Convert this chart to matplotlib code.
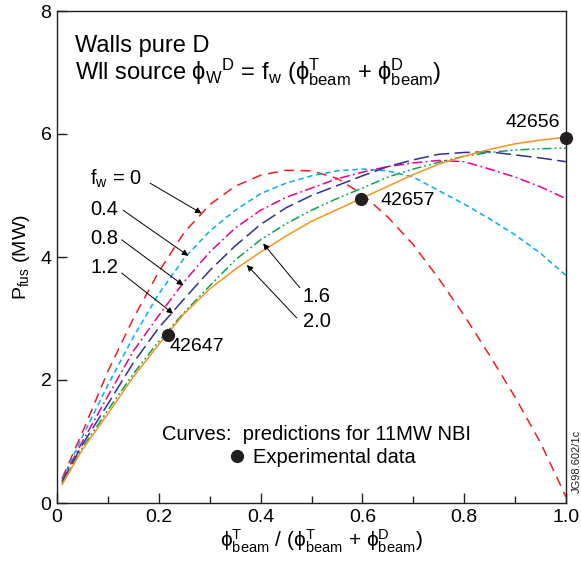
import matplotlib
matplotlib.use('Agg')
import matplotlib.pyplot as plt

plt.rcParams['font.family'] = ['Liberation Sans', 'DejaVu Sans']
plt.rcParams['mathtext.fontset'] = 'custom'
plt.rcParams['mathtext.rm'] = 'Liberation Sans'
plt.rcParams['mathtext.it'] = 'Liberation Sans:italic'
plt.rcParams['mathtext.sf'] = 'Liberation Sans'

# beam tritium fraction
frac = [0.01, 0.05, 0.10, 0.15, 0.20, 0.25, 0.30, 0.35, 0.40, 0.45, 0.50,
        0.55, 0.60, 0.65, 0.70, 0.75, 0.80, 0.85, 0.90, 0.95, 1.00]

# predicted Pfus (MW) for each wall source factor f_w
p_fw00 = [0.40, 1.15, 2.14, 3.00, 3.76, 4.40, 4.85, 5.15, 5.33, 5.41, 5.40,
          5.28, 5.02, 4.65, 4.20, 3.65, 3.05, 2.40, 1.72, 0.98, 0.10]
p_fw04 = [0.38, 1.08, 1.92, 2.70, 3.40, 3.98, 4.42, 4.76, 5.03, 5.20, 5.32,
          5.40, 5.43, 5.40, 5.30, 5.08, 4.86, 4.62, 4.36, 4.06, 3.70]
p_fw08 = [0.36, 1.00, 1.74, 2.47, 3.05, 3.60, 4.08, 4.47, 4.76, 4.97, 5.12,
          5.27, 5.38, 5.47, 5.53, 5.57, 5.55, 5.43, 5.30, 5.14, 4.95]
p_fw12 = [0.34, 0.95, 1.61, 2.28, 2.85, 3.32, 3.78, 4.18, 4.53, 4.80, 5.00,
          5.16, 5.32, 5.47, 5.58, 5.67, 5.70, 5.71, 5.66, 5.61, 5.55]
p_fw16 = [0.32, 0.90, 1.51, 2.10, 2.63, 3.10, 3.53, 3.95, 4.28, 4.54, 4.76,
          4.95, 5.12, 5.30, 5.43, 5.54, 5.64, 5.70, 5.74, 5.76, 5.77]
p_fw20 = [0.30, 0.87, 1.45, 2.05, 2.58, 3.08, 3.48, 3.80, 4.08, 4.34, 4.58,
          4.77, 4.96, 5.15, 5.34, 5.51, 5.64, 5.75, 5.84, 5.90, 5.95]

# experimental shots
exp_frac = [0.219, 0.597, 1.0]
exp_pfus = [2.73, 4.94, 5.93]
exp_shots = ['42647', '42657', '42656']

fig = plt.figure(figsize=(5.81, 5.61), dpi=100)
ax = fig.add_axes([57 / 581, 58 / 561, 509 / 581, 492 / 561])

curves = [
    (p_fw00, '#ed1c24', (0, (6.5, 4.3))),
    (p_fw04, '#00aeef', (0, (3.6, 2.4))),
    (p_fw08, '#ec008c', (0, (6.5, 2.2, 1.2, 2.2))),
    (p_fw12, '#2e3192', (0, (10, 3.5))),
    (p_fw16, '#00a651', (0, (6, 2, 1.2, 2, 1.2, 2))),
    (p_fw20, '#f7941d', '-'),
]
for yv, col, ls in curves:
    ax.plot(frac, yv, color=col, linestyle=ls, lw=1.1)

ax.plot(exp_frac, exp_pfus, 'o', color='#231f20', ms=8.5, clip_on=False,
        zorder=5, label='Experimental data')

# shot labels
ax.text(0.222, 2.55, exp_shots[0], fontsize=14, ha='left', va='center')
ax.text(0.636, 4.92, exp_shots[1], fontsize=14, ha='left', va='center')
ax.text(0.988, 6.18, exp_shots[2], fontsize=14, ha='right', va='center')

ax.set_xlim(0, 1)
ax.set_ylim(0, 8)
ax.set_xticks([0, 0.2, 0.4, 0.6, 0.8, 1.0])
ax.set_xticklabels(['0', '0.2', '0.4', '0.6', '0.8', '1.0'])
ax.set_xticks([0.1, 0.3, 0.5, 0.7, 0.9], minor=True)
ax.set_yticks([0, 2, 4, 6, 8])
ax.tick_params(which='major', direction='in', length=7.5, width=1.0,
               labelsize=14, pad=4, color='#231f20')
ax.tick_params(which='minor', direction='in', length=5, width=1.0,
               color='#231f20')
for s in ax.spines.values():
    s.set_linewidth(1.0)
    s.set_color('#231f20')

ax.set_ylabel(r'P$_{\mathrm{fus}}$ (MW)', fontsize=14)
ax.yaxis.set_label_coords(-0.05, 0.5)
ax.set_xlabel(r'$\mathrm{\phi^{T}_{beam}}$ / ($\mathrm{\phi^{T}_{beam}}$ + '
              r'$\mathrm{\phi^{D}_{beam}}$)', fontsize=15)
ax.xaxis.set_label_coords(0.52, -0.05)

# heading
ax.text(0.035, 7.33, 'Walls pure D', fontsize=17, ha='left', va='baseline')
ax.text(0.035, 6.88,
        r'Wll source $\mathrm{\phi_{W}{}^{D}}$ = f$_\mathrm{w}$ '
        r'($\mathrm{\phi^{T}_{beam}}$ + $\mathrm{\phi^{D}_{beam}}$)',
        fontsize=17, ha='left', va='baseline')

# f_w labels with arrows
arrow_kw = dict(arrowstyle='-|>', lw=0.7, color='black', mutation_scale=9,
                shrinkA=0, shrinkB=0)
fw_labels = [
    (r'f$_\mathrm{w}$ = 0', (0.065, 5.17), (0.183, 5.20), (0.284, 4.71)),
    ('0.4', (0.065, 4.68), (0.130, 4.76), (0.258, 4.02)),
    ('0.8', (0.065, 4.21), (0.127, 4.28), (0.248, 3.54)),
    ('1.2', (0.065, 3.74), (0.127, 3.74), (0.228, 3.08)),
    ('1.6', (0.483, 3.27), (0.477, 3.50), (0.405, 4.22)),
    ('2.0', (0.483, 2.86), (0.471, 3.01), (0.373, 3.87)),
]
for lab, tpos, tail, head in fw_labels:
    ax.text(tpos[0], tpos[1], lab, fontsize=14.5, ha='left', va='baseline')
    ax.annotate('', xy=head, xytext=tail, arrowprops=arrow_kw)

ax.text(0.206, 1.12, 'Curves:  predictions for 11MW NBI', fontsize=14.5,
        ha='left', va='center')
ax.legend(loc='center left', bbox_to_anchor=(0.338, 0.0915), frameon=False,
          handlelength=0.8, handletextpad=0.4, borderpad=0, borderaxespad=0,
          fontsize=14.5, markerscale=1.0)

fig.text(577 / 581, 1 - 461 / 561, 'JG98.602/1c', rotation=90, fontsize=8,
         ha='center', va='center', color='#231f20')

fig.savefig('out.png', dpi=100)
